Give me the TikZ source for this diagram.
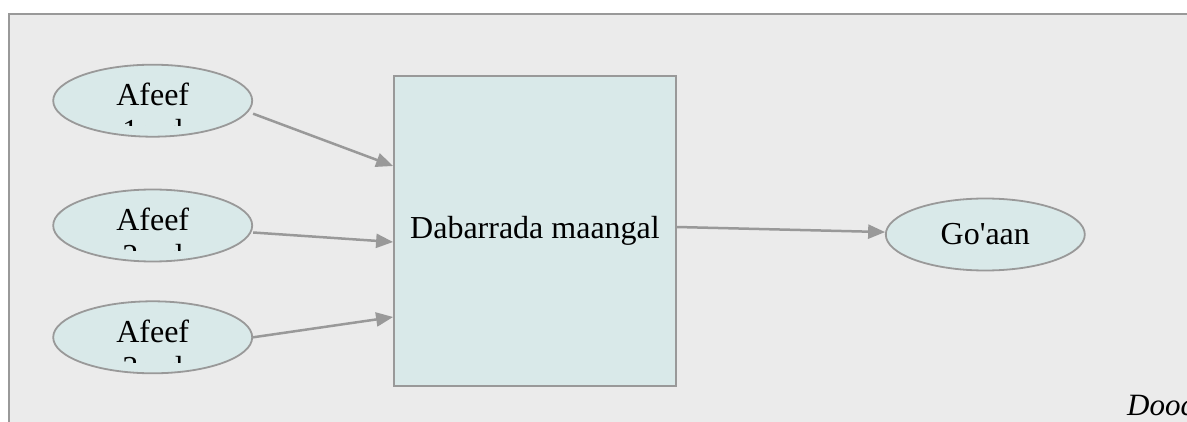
\documentclass[tikz,border=0pt]{standalone}
\usepackage{fontspec}
\setmainfont{Liberation Serif}
\usetikzlibrary{positioning,shapes.geometric,arrows.meta}

\definecolor{bggray}{HTML}{EBEBEB}
\definecolor{edgegray}{HTML}{999999}
\definecolor{nodefill}{HTML}{D9E9E9}

\begin{document}
\begin{tikzpicture}[
	font=\fontsize{32}{36}\selectfont,
	frame/.style = {draw=edgegray, line width=2pt, fill=bggray},
	stratbox/.style = {
		draw=edgegray, rectangle, fill=nodefill, line width=1.8pt,
		minimum width=282pt, minimum height=310pt, inner sep=0pt},
	optnode/.style = {
		draw=edgegray, ellipse, fill=nodefill, line width=1.8pt,
		minimum width=199pt, minimum height=72pt, inner sep=0pt},
	afeef/.style = {optnode,
		path picture={
			\clip ([yshift=11pt]path picture bounding box.south west)
				rectangle (path picture bounding box.north east);
			\node[rectangle, draw=none, fill=none, minimum size=0pt,
				inner sep=0pt, anchor=base]
				at ([yshift=-5pt]path picture bounding box.center)
				{\begin{tabular}[t]{@{}c@{}}#1\end{tabular}};}},
	arrow/.style = {draw=edgegray, line width=2.5pt,
		-{Triangle[length=17pt,width=14pt]}}
]
\useasboundingbox (0,0) rectangle (1187pt,421pt);
\draw[frame] (9pt,-10pt) rectangle (1200pt,407pt);

\node (strategy) [stratbox] at (535pt,190pt) {Dabarrada maangal};

\node (afeef2) [afeef={Afeef\\2aad}, left=140pt of strategy, yshift=5.5pt] {};
\node (afeef1) [afeef={Afeef\\1aad}, above=51pt of afeef2] {};
\node (afeef3) [afeef={Afeef\\3aad}, below=38pt of afeef2] {};

\node (goaan)  [optnode, right=208pt of strategy, yshift=-3.5pt]
                                    {Go\textquotesingle aan};

\draw[arrow] ([yshift=-13pt]afeef1.east) -- ([yshift=65pt]strategy.west);
\draw[arrow] ([yshift=-7pt]afeef2.east)  -- ([yshift=-11pt]strategy.west);
\draw[arrow] (afeef3.east)               -- ([yshift=-86pt]strategy.west);
\draw[arrow] ([yshift=4pt]strategy.east) -- (goaan);

%\node[above=of strategy] {};
\node (dooc) [anchor=base west, inner sep=0pt,
              font=\fontsize{31}{36}\selectfont\itshape] at (1127pt,6pt) {Dooc};
\end{tikzpicture}
\end{document}
